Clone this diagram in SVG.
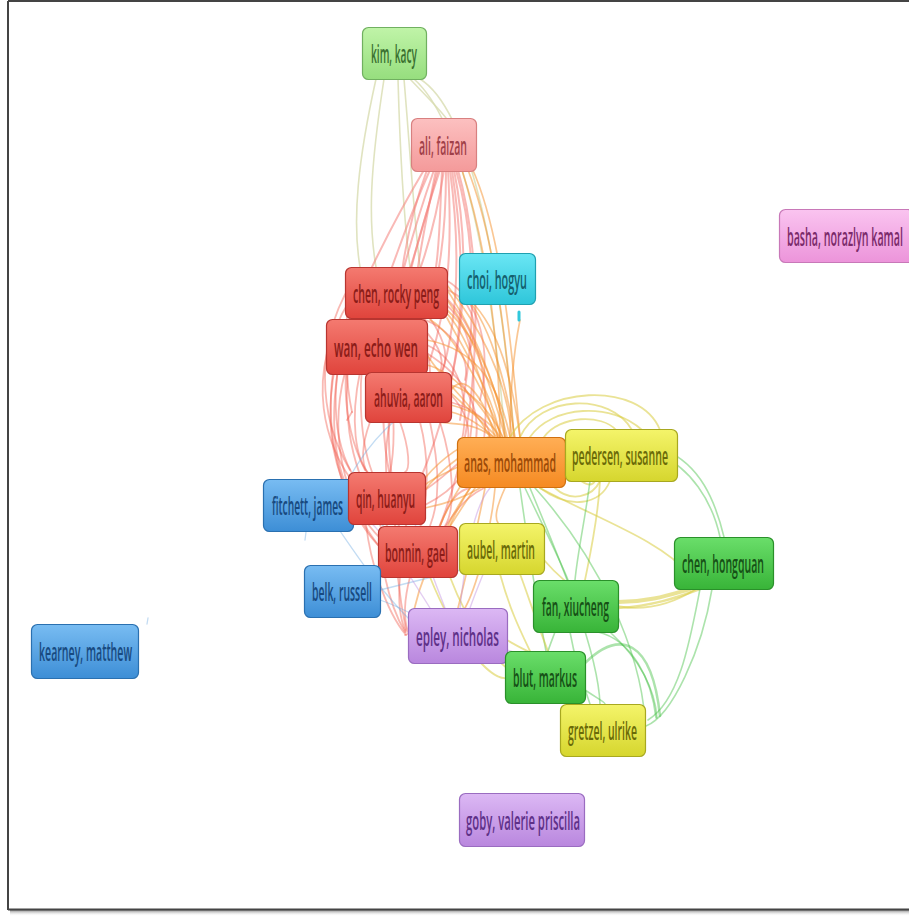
<svg xmlns="http://www.w3.org/2000/svg" width="909" height="916" viewBox="0 0 909 916">
  <style>
    .e { fill: none; stroke-linecap: round; }
    .er { stroke: #f0574a; stroke-opacity: 0.42; stroke-width: 1.8; }
    .ep { stroke: #f4807a; stroke-opacity: 0.55; stroke-width: 2; }
    .eo { stroke: #f5902a; stroke-opacity: 0.5; stroke-width: 1.7; }
    .ey { stroke: #d8cc40; stroke-opacity: 0.55; stroke-width: 1.8; }
    .eg { stroke: #48c048; stroke-opacity: 0.45; stroke-width: 1.6; }
    .ek { stroke: #d8dcb0; stroke-opacity: 0.8; stroke-width: 1.6; }
    .eb { stroke: #6aa8e0; stroke-opacity: 0.4; stroke-width: 1.3; }
    .ev { stroke: #c090e0; stroke-opacity: 0.45; stroke-width: 1.4; }
    .node rect { stroke-width: 1.2; }
    .node text { font-family: "Open Sans", "Liberation Sans", sans-serif; font-size: 26px; font-weight: 600; text-anchor: start; }
    .red rect { fill: url(#gRed); stroke: #b83530; } .red text { fill: #8b1c18; }
    .pink rect { fill: url(#gPink); stroke: #d88080; } .pink text { fill: #a04048; }
    .lgreen rect { fill: url(#gLgreen); stroke: #70b060; } .lgreen text { fill: #3a7030; }
    .cyan rect { fill: url(#gCyan); stroke: #20a0b0; } .cyan text { fill: #15606e; }
    .orange rect { fill: url(#gOrange); stroke: #d07010; } .orange text { fill: #9a4a08; }
    .yellow rect { fill: url(#gYellow); stroke: #a8a820; } .yellow text { fill: #6a6a08; }
    .blue rect { fill: url(#gBlue); stroke: #2a70b0; } .blue text { fill: #184a80; }
    .green rect { fill: url(#gGreen); stroke: #2a902a; } .green text { fill: #165016; }
    .purple rect { fill: url(#gPurple); stroke: #9a6cc0; } .purple text { fill: #5e3088; }
    .magenta rect { fill: url(#gMagenta); stroke: #c878b8; } .magenta text { fill: #7a2a6a; }
  </style>
  <defs>
    <linearGradient id="gRed" x1="0" y1="0" x2="0" y2="1"><stop offset="0" stop-color="#f47a70"/><stop offset="1" stop-color="#e0443c"/></linearGradient>
    <linearGradient id="gPink" x1="0" y1="0" x2="0" y2="1"><stop offset="0" stop-color="#fcc0c0"/><stop offset="1" stop-color="#f49a9a"/></linearGradient>
    <linearGradient id="gLgreen" x1="0" y1="0" x2="0" y2="1"><stop offset="0" stop-color="#c0f4a8"/><stop offset="1" stop-color="#96de7e"/></linearGradient>
    <linearGradient id="gCyan" x1="0" y1="0" x2="0" y2="1"><stop offset="0" stop-color="#6ae6f4"/><stop offset="1" stop-color="#2ec6da"/></linearGradient>
    <linearGradient id="gOrange" x1="0" y1="0" x2="0" y2="1"><stop offset="0" stop-color="#ffae55"/><stop offset="1" stop-color="#f58a22"/></linearGradient>
    <linearGradient id="gYellow" x1="0" y1="0" x2="0" y2="1"><stop offset="0" stop-color="#f4f46a"/><stop offset="1" stop-color="#d6d62e"/></linearGradient>
    <linearGradient id="gBlue" x1="0" y1="0" x2="0" y2="1"><stop offset="0" stop-color="#78bcf2"/><stop offset="1" stop-color="#3d8ed6"/></linearGradient>
    <linearGradient id="gGreen" x1="0" y1="0" x2="0" y2="1"><stop offset="0" stop-color="#6ade6a"/><stop offset="1" stop-color="#38b438"/></linearGradient>
    <linearGradient id="gPurple" x1="0" y1="0" x2="0" y2="1"><stop offset="0" stop-color="#dcb8f4"/><stop offset="1" stop-color="#b987de"/></linearGradient>
    <linearGradient id="gMagenta" x1="0" y1="0" x2="0" y2="1"><stop offset="0" stop-color="#fac4f0"/><stop offset="1" stop-color="#ec94da"/></linearGradient>
    <linearGradient id="gShadow" x1="0" y1="0" x2="0" y2="1"><stop offset="0" stop-color="#888"/><stop offset="1" stop-color="#fff" stop-opacity="0"/></linearGradient>
  </defs>

  <rect x="0" y="0" width="909" height="916" fill="#ffffff"/>

  <!-- frame -->
  <g id="frame">
    <rect x="10" y="910" width="899" height="6" fill="url(#gShadow)"/>
    <line x1="8" y1="1" x2="909" y2="1" stroke="#444" stroke-width="2"/>
    <line x1="8" y1="1" x2="8" y2="910" stroke="#444" stroke-width="2"/>
    <line x1="8" y1="909.5" x2="909" y2="909.5" stroke="#444" stroke-width="2"/>
  </g>

  <g id="connectors">
    <!-- kim, kacy -->
    <path class="e ek" d="M376,79 C358,160 352,220 360,267"/>
    <path class="e ek" d="M384,79 C370,170 368,220 376,267"/>
    <path class="e ek" d="M398,79 C400,150 404,220 410,267"/>
    <path class="e ek" d="M404,79 C410,150 415,230 420,267"/>
    <path class="e ek" d="M410,79 C430,100 440,110 446,118"/>
    <path class="e ek" d="M414,79 C460,120 490,250 505,437"/>
    <path class="e ek" d="M420,79 C470,110 500,260 514,437"/>

    <!-- ali, faizan -->
    <path class="e ep" d="M424,170 C400,210 385,240 372,267"/>
    <path class="e ep" d="M430,170 C412,210 402,240 392,267"/>
    <path class="e ep" d="M436,170 C428,210 422,240 418,267"/>
    <path class="e ep" d="M442,170 C440,210 440,240 436,267"/>
    <path class="e ep" d="M446,170 C446,230 440,290 420,330"/>
    <path class="e ep" d="M450,170 C458,230 462,310 440,380"/>
    <path class="e ep" d="M454,170 C470,250 470,360 420,480"/>
    <path class="e ep" d="M458,170 C484,260 484,420 438,530"/>
    <path class="e ep" d="M440,170 C410,260 378,380 392,478"/>
    <path class="e ep" d="M434,170 C396,280 356,420 408,530"/>
    <path class="e ep" d="M444,170 C430,260 400,330 380,340"/>
    <path class="e ep" d="M448,170 C452,240 450,300 430,360"/>
    <path class="e ep" d="M452,170 C464,250 466,330 446,400"/>
    <path class="e ep" d="M438,170 C418,250 400,300 390,330"/>
    <path class="e ep" d="M427,170 C405,230 395,300 400,340"/>
    <path class="e ep" d="M456,170 C476,240 478,320 460,420"/>
    <path class="e eo" d="M462,170 C488,250 500,350 500,437"/>
    <path class="e eo" d="M468,170 C492,230 506,330 514,437"/>
    <path class="e eo" d="M472,168 C500,230 510,330 520,437"/>

    <!-- red cluster -->
    <path class="e er" d="M350,318 C330,380 330,440 356,480"/>
    <path class="e er" d="M356,318 C338,400 345,470 390,530"/>
    <path class="e er" d="M345,372 C330,430 340,500 382,540"/>
    <path class="e er" d="M360,372 C350,420 355,460 370,475"/>
    <path class="e er" d="M370,422 C360,450 362,465 368,474"/>
    <path class="e er" d="M390,422 C380,470 390,510 400,528"/>
    <path class="e er" d="M420,422 C430,460 428,500 420,528"/>
    <path class="e er" d="M430,318 C445,340 450,360 440,374"/>
    <path class="e er" d="M440,300 C470,320 480,360 470,440"/>
    <path class="e er" d="M444,296 C480,330 490,380 484,440"/>
    <path class="e er" d="M427,345 C460,360 470,400 462,440"/>
    <path class="e er" d="M425,352 C470,380 480,410 476,440"/>
    <path class="e er" d="M451,395 C465,410 470,425 468,440"/>
    <path class="e er" d="M450,402 C480,410 490,425 490,440"/>
    <path class="e er" d="M425,490 C440,480 450,470 460,462"/>
    <path class="e er" d="M425,505 C445,495 455,485 462,475"/>
    <path class="e er" d="M440,526 C450,500 458,490 470,488"/>
    <path class="e er" d="M446,526 C458,505 470,495 484,488"/>
    <path class="e er" d="M350,300 C300,380 330,450 350,478"/>
    <path class="e er" d="M360,270 C310,340 320,420 350,470"/>
    <path class="e er" d="M400,577 C398,600 400,620 406,632"/>
    <path class="e er" d="M410,577 C404,600 404,620 408,632"/>
    <path class="e er" d="M385,577 C390,600 398,620 405,632"/>
    <path class="e er" d="M366,524 C370,560 385,610 406,635"/>
    <path class="e er" d="M395,524 C395,560 400,600 406,630"/>
    <path class="e er" d="M420,318 C455,330 470,360 465,380"/>
    <path class="e er" d="M380,372 C400,380 420,385 430,390"/>
    <path class="e er" d="M348,300 C345,340 345,380 352,412"/>
    <path class="e er" d="M352,412 L347,420"/>
    <path class="e er" d="M345,330 C330,400 330,450 348,490"/>
    <path class="e er" d="M340,345 C320,420 330,480 378,545"/>
    <path class="e er" d="M335,360 C322,430 340,520 395,560"/>
    <path class="e er" d="M400,318 C420,330 430,350 430,372"/>
    <path class="e er" d="M410,318 C440,340 445,360 440,372"/>
    <path class="e er" d="M390,374 C395,420 395,450 390,472"/>
    <path class="e er" d="M400,422 C410,450 410,470 405,472"/>
    <path class="e er" d="M430,422 C440,470 440,500 430,526"/>
    <path class="e er" d="M440,422 C455,470 455,510 445,526"/>
    <path class="e er" d="M360,300 C340,360 340,420 365,470"/>
    <path class="e er" d="M370,318 C355,380 360,440 372,472"/>
    <path class="e er" d="M448,290 C470,300 480,320 470,350"/>
    <path class="e er" d="M446,280 C480,300 492,350 480,400"/>
    <path class="e er" d="M380,524 C385,545 388,560 392,576"/>
    <path class="e er" d="M405,635 L412,632"/>

    <!-- anas, mohammad -->
    <path class="e eo" d="M505,437 C490,380 470,330 447,300"/>
    <path class="e eo" d="M498,437 C480,370 460,320 440,308"/>
    <path class="e eo" d="M510,437 C500,390 480,350 427,340"/>
    <path class="e eo" d="M490,437 C470,400 450,390 427,355"/>
    <path class="e eo" d="M500,437 C490,420 470,410 451,405"/>
    <path class="e eo" d="M494,437 C480,425 465,415 451,412"/>
    <path class="e eo" d="M515,437 C505,380 490,320 460,290"/>
    <path class="e eo" d="M520,437 C512,380 500,330 470,300"/>
    <path class="e eo" d="M500,437 C495,400 470,360 447,318"/>
    <path class="e eo" d="M505,437 C500,395 480,340 447,310"/>
    <path class="e eo" d="M495,437 C485,400 465,370 451,390"/>
    <path class="e eo" d="M503,437 C490,410 470,390 451,385"/>
    <path class="e eo" d="M498,437 C485,405 450,370 427,365"/>
    <path class="e eo" d="M512,437 C508,390 490,340 447,285"/>
    <path class="e eo" d="M507,437 C495,380 470,320 440,280"/>
    <path class="e eo" d="M502,437 C480,380 450,330 430,320"/>
    <path class="e eo" d="M497,437 C470,410 440,380 420,372"/>
    <path class="e eo" d="M493,437 C470,420 450,425 440,422"/>
    <path class="e eo" d="M489,437 C465,440 440,460 425,478"/>
    <path class="e eo" d="M487,440 C460,455 440,470 425,490"/>
    <path class="e eo" d="M490,445 C470,470 450,500 440,526"/>
    <path class="e eo" d="M492,450 C470,490 455,510 450,526"/>
    <path class="e eo" d="M485,455 C450,470 430,480 425,485"/>
    <path class="e eo" d="M480,488 C460,500 440,505 425,508"/>
    <path class="e eo" d="M470,488 C455,510 450,520 448,526"/>
    <path class="e eo" d="M485,488 C475,540 465,580 458,608"/>
    <path class="e eo" d="M495,488 C490,540 475,590 465,608"/>
    <path class="e eo" d="M475,488 C440,540 420,570 410,630"/>
    <path class="e eo" d="M505,488 C495,510 495,518 498,523"/>
    <path class="e eo" d="M510,437 C510,400 512,360 520,320"/>

    <!-- anas / pedersen arcs -->
    <path class="e ey" d="M520,437 C540,395 610,392 632,430"/>
    <path class="e ey" d="M530,437 C552,405 612,402 642,430"/>
    <path class="e ey" d="M544,437 C560,415 602,414 616,430"/>
    <path class="e ey" d="M510,437 C540,385 640,380 660,430"/>
    <path class="e ey" d="M555,488 C570,502 592,498 600,481"/>
    <path class="e ey" d="M540,488 C570,510 600,505 610,481"/>
    <path class="e ey" d="M565,470 C580,480 590,490 595,481"/>

    <!-- pedersen / chen hongquan / fan -->
    <path class="e eg" d="M660,455 C690,468 712,500 720,537"/>
    <path class="e eg" d="M665,450 C700,465 715,500 724,537"/>
    <path class="e ey" d="M618,602 C650,602 672,594 690,589" style="stroke-width:4"/>
    <path class="e ey" d="M618,608 C652,606 676,598 700,589" style="stroke-width:2.5"/>
    <path class="e ey" d="M544,560 C600,625 660,612 696,589"/>
    <path class="e ey" d="M540,488 C600,520 660,540 690,575"/>
    <path class="e eg" d="M700,589 C690,640 680,700 648,720"/>
    <path class="e eg" d="M712,589 C702,650 672,716 646,726"/>
    <path class="e eg" d="M590,481 C585,520 578,550 575,580"/>
    <path class="e ey" d="M600,481 C598,520 590,555 585,580"/>

    <!-- green lower group -->
    <path class="e eg" d="M598,632 C632,640 652,680 656,718"/>
    <path class="e eg" d="M584,664 C620,628 652,640 660,716" style="stroke-width:2.5"/>
    <path class="e eg" d="M610,632 C640,660 655,690 657,718"/>
    <path class="e eg" d="M555,632 C552,640 550,645 548,651"/>
    <path class="e eg" d="M570,632 C575,660 585,690 590,704"/>
    <path class="e eg" d="M585,690 C600,700 605,702 605,704"/>
    <path class="e eg" d="M520,488 C530,560 540,620 546,651"/>
    <path class="e eg" d="M530,488 C560,560 598,650 600,704"/>
    <path class="e eg" d="M525,488 C545,530 560,560 568,580"/>
    <path class="e eg" d="M535,488 C600,560 640,650 645,720"/>
    <path class="e ey" d="M500,574 C510,610 520,630 530,651"/>
    <path class="e ey" d="M520,574 C530,600 545,650 570,704"/>
    <path class="e ey" d="M430,577 C455,640 490,680 506,678"/>
    <path class="e ey" d="M450,577 C470,630 500,665 510,670"/>
    <path class="e ey" d="M507,640 C520,648 530,652 535,655"/>

    <!-- blue / purple -->
    <path class="e eb" d="M352,505 C380,520 400,540 420,560"/>
    <path class="e eb" d="M340,531 C360,560 380,590 410,620"/>
    <path class="e eb" d="M380,590 C420,580 460,570 500,560"/>
    <path class="e eb" d="M380,600 C410,610 440,630 460,640"/>
    <path class="e eb" d="M348,480 C370,440 400,410 430,400"/>
    <path class="e eb" d="M306,532 L305,540"/>
    <path class="e eb" d="M148,618 L147,624"/>
    <path class="e ev" d="M430,608 C400,560 380,530 372,524"/>
    <path class="e ev" d="M445,608 C430,570 420,540 415,524"/>
    <path class="e ev" d="M470,608 C480,580 490,560 495,540"/>
    <path class="e ev" d="M507,650 C540,660 560,668 585,670"/>
    <path class="e ev" d="M460,608 C470,520 480,500 490,488"/>
    <path class="e" d="M519,312 L519,320" style="stroke:#30c8dc;stroke-width:3"/>
  </g>

  <!-- nodes: labels are set condensed (x-scale 0.45) -->
  <g id="kim-kacy" class="node lgreen"><rect x="362.5" y="27.5" width="64" height="52" rx="6"/><text transform="translate(371,63) scale(0.45,1)" textLength="102.2" lengthAdjust="spacingAndGlyphs">kim, kacy</text></g>
  <g id="ali-faizan" class="node pink"><rect x="411.5" y="118.5" width="65" height="53" rx="6"/><text transform="translate(419,155) scale(0.45,1)" textLength="106.7" lengthAdjust="spacingAndGlyphs">ali, faizan</text></g>
  <g id="basha-norazlyn-kamal" class="node magenta"><rect x="779.5" y="209.5" width="134" height="53" rx="6"/><text transform="translate(787,246) scale(0.42,1)" textLength="276.2" lengthAdjust="spacingAndGlyphs">basha, norazlyn kamal</text></g>
  <g id="choi-hogyu" class="node cyan"><rect x="459.5" y="253.5" width="76" height="51" rx="6"/><text transform="translate(467,289) scale(0.45,1)" textLength="133.3" lengthAdjust="spacingAndGlyphs">choi, hogyu</text></g>
  <g id="chen-rocky-peng" class="node red"><rect x="345.5" y="267.5" width="102" height="51" rx="6"/><text transform="translate(353,303) scale(0.45,1)" textLength="191.1" lengthAdjust="spacingAndGlyphs">chen, rocky peng</text></g>
  <g id="wan-echo-wen" class="node red"><rect x="326.5" y="319.5" width="101" height="55" rx="6"/><text transform="translate(334,357) scale(0.45,1)" textLength="186.7" lengthAdjust="spacingAndGlyphs">wan, echo wen</text></g>
  <g id="ahuvia-aaron" class="node red"><rect x="365.5" y="372.5" width="86" height="50" rx="6"/><text transform="translate(374,407) scale(0.45,1)" textLength="153.3" lengthAdjust="spacingAndGlyphs">ahuvia, aaron</text></g>
  <g id="anas-mohammad" class="node orange"><rect x="457.5" y="437.5" width="108" height="50" rx="6"/><text transform="translate(464,472) scale(0.45,1)" textLength="204.4" lengthAdjust="spacingAndGlyphs">anas, mohammad</text></g>
  <g id="pedersen-susanne" class="node yellow"><rect x="565.5" y="429.5" width="112" height="52" rx="6"/><text transform="translate(572,465) scale(0.45,1)" textLength="213.3" lengthAdjust="spacingAndGlyphs">pedersen, susanne</text></g>
  <g id="fitchett-james" class="node blue"><rect x="263.5" y="479.5" width="90" height="52" rx="6"/><text transform="translate(272,515) scale(0.45,1)" textLength="157.8" lengthAdjust="spacingAndGlyphs">fitchett, james</text></g>
  <g id="qin-huanyu" class="node red"><rect x="348.5" y="472.5" width="77" height="52" rx="6"/><text transform="translate(356,508) scale(0.45,1)" textLength="131.1" lengthAdjust="spacingAndGlyphs">qin, huanyu</text></g>
  <g id="bonnin-gael" class="node red"><rect x="378.5" y="526.5" width="79" height="51" rx="6"/><text transform="translate(385,562) scale(0.45,1)" textLength="140" lengthAdjust="spacingAndGlyphs">bonnin, gael</text></g>
  <g id="aubel-martin" class="node yellow"><rect x="459.5" y="523.5" width="85" height="51" rx="6"/><text transform="translate(467,559) scale(0.45,1)" textLength="151.1" lengthAdjust="spacingAndGlyphs">aubel, martin</text></g>
  <g id="chen-hongquan" class="node green"><rect x="674.5" y="537.5" width="99" height="52" rx="6"/><text transform="translate(682,573) scale(0.45,1)" textLength="182.2" lengthAdjust="spacingAndGlyphs">chen, hongquan</text></g>
  <g id="belk-russell" class="node blue"><rect x="304.5" y="565.5" width="76" height="52" rx="6"/><text transform="translate(312,601) scale(0.45,1)" textLength="133.3" lengthAdjust="spacingAndGlyphs">belk, russell</text></g>
  <g id="fan-xiucheng" class="node green"><rect x="533.5" y="580.5" width="85" height="52" rx="6"/><text transform="translate(542,616) scale(0.45,1)" textLength="148.9" lengthAdjust="spacingAndGlyphs">fan, xiucheng</text></g>
  <g id="epley-nicholas" class="node purple"><rect x="408.5" y="608.5" width="99" height="55" rx="6"/><text transform="translate(416,646) scale(0.45,1)" textLength="184.4" lengthAdjust="spacingAndGlyphs">epley, nicholas</text></g>
  <g id="kearney-matthew" class="node blue"><rect x="31.5" y="624.5" width="107" height="54" rx="6"/><text transform="translate(39,661) scale(0.45,1)" textLength="206.7" lengthAdjust="spacingAndGlyphs">kearney, matthew</text></g>
  <g id="blut-markus" class="node green"><rect x="505.5" y="651.5" width="80" height="52" rx="6"/><text transform="translate(513,687) scale(0.45,1)" textLength="142.2" lengthAdjust="spacingAndGlyphs">blut, markus</text></g>
  <g id="gretzel-ulrike" class="node yellow"><rect x="560.5" y="704.5" width="85" height="52" rx="6"/><text transform="translate(568,740) scale(0.45,1)" textLength="153.3" lengthAdjust="spacingAndGlyphs">gretzel, ulrike</text></g>
  <g id="goby-valerie-priscilla" class="node purple"><rect x="459.5" y="793.5" width="125" height="53" rx="6"/><text transform="translate(466,830) scale(0.45,1)" textLength="253.3" lengthAdjust="spacingAndGlyphs">goby, valerie priscilla</text></g>
</svg>
